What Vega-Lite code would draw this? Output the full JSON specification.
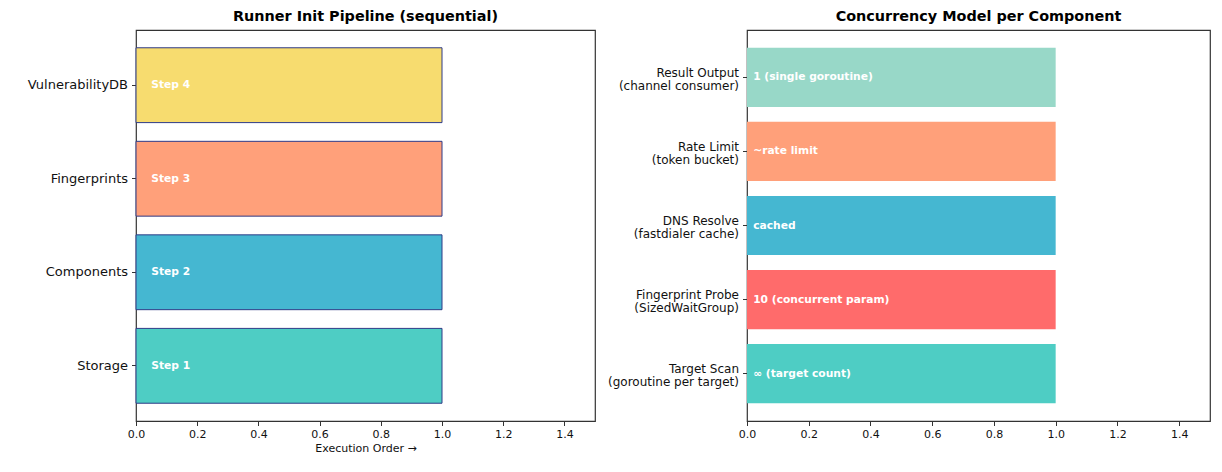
{
  "$schema": "https://vega.github.io/schema/vega-lite/v6.json",
  "background": "white",
  "padding": {"left": 26, "top": 8, "right": 5, "bottom": 5},
  "config": {
    "font": "DejaVu Sans",
    "view": {"stroke": "#333333", "strokeWidth": 1.2},
    "axis": {
      "grid": false,
      "domain": false,
      "tickColor": "#333333",
      "tickSize": 4.5,
      "labelColor": "#111111",
      "labelFont": "DejaVu Sans",
      "labelFlush": false,
      "titleFont": "DejaVu Sans",
      "titleFontWeight": "normal",
      "titleColor": "#111111"
    },
    "title": {"font": "DejaVu Sans", "fontSize": 14.4, "fontWeight": "bold", "color": "#000000", "offset": 6}
  },
  "spacing": 10,
  "hconcat": [
    {
      "title": "Runner Init Pipeline (sequential)",
      "width": 459,
      "height": 391,
      "data": {
        "values": [
          {"module": "Storage", "order": 1, "label": "Step 1", "colour": "#4ECDC4"},
          {"module": "Components", "order": 1, "label": "Step 2", "colour": "#45B7D1"},
          {"module": "Fingerprints", "order": 1, "label": "Step 3", "colour": "#FFA07A"},
          {"module": "VulnerabilityDB", "order": 1, "label": "Step 4", "colour": "#F7DC6F"}
        ]
      },
      "encoding": {
        "y": {
          "field": "module",
          "type": "nominal",
          "sort": ["VulnerabilityDB", "Fingerprints", "Components", "Storage"],
          "scale": {"paddingInner": 0.2, "paddingOuter": 0.19},
          "axis": {"title": null, "labelFontSize": 13, "labelPadding": 4}
        }
      },
      "layer": [
        {
          "mark": {"type": "bar", "stroke": "#2E3A87", "strokeWidth": 1},
          "encoding": {
            "x": {
              "field": "order",
              "type": "quantitative",
              "scale": {"domain": [0, 1.5], "nice": false},
              "axis": {"title": "Execution Order →", "values": [0, 0.2, 0.4, 0.6, 0.8, 1.0, 1.2, 1.4], "format": ".1f", "labelFontSize": 11, "titleFontSize": 11, "titlePadding": 3, "labelPadding": 3}
            },
            "color": {"field": "colour", "type": "nominal", "scale": null}
          }
        },
        {
          "mark": {"type": "text", "align": "left", "baseline": "middle", "color": "white", "fontWeight": "bold", "fontSize": 10.7},
          "encoding": {
            "x": {"datum": 0.05, "type": "quantitative"},
            "text": {"field": "label"}
          }
        }
      ]
    },
    {
      "title": "Concurrency Model per Component",
      "width": 463,
      "height": 391,
      "data": {
        "values": [
          {"component": "Target Scan\n(goroutine per target)", "level": 1, "label": "∞ (target count)", "colour": "#4ECDC4"},
          {"component": "Fingerprint Probe\n(SizedWaitGroup)", "level": 1, "label": "10 (concurrent param)", "colour": "#FF6B6B"},
          {"component": "DNS Resolve\n(fastdialer cache)", "level": 1, "label": "cached", "colour": "#45B7D1"},
          {"component": "Rate Limit\n(token bucket)", "level": 1, "label": "~rate limit", "colour": "#FFA07A"},
          {"component": "Result Output\n(channel consumer)", "level": 1, "label": "1 (single goroutine)", "colour": "#98D8C8"}
        ]
      },
      "encoding": {
        "y": {
          "field": "component",
          "type": "nominal",
          "sort": [
            "Result Output\n(channel consumer)",
            "Rate Limit\n(token bucket)",
            "DNS Resolve\n(fastdialer cache)",
            "Fingerprint Probe\n(SizedWaitGroup)",
            "Target Scan\n(goroutine per target)"
          ],
          "scale": {"paddingInner": 0.2, "paddingOuter": 0.24},
          "axis": {"title": null, "labelFontSize": 12, "labelLineHeight": 13, "labelOffset": -4.5, "labelPadding": 4, "labelExpr": "split(datum.label, '\\n')"}
        }
      },
      "layer": [
        {
          "mark": {"type": "bar"},
          "encoding": {
            "x": {
              "field": "level",
              "type": "quantitative",
              "scale": {"domain": [0, 1.5], "nice": false},
              "axis": {"title": null, "values": [0, 0.2, 0.4, 0.6, 0.8, 1.0, 1.2, 1.4], "format": ".1f", "labelFontSize": 11, "labelPadding": 3}
            },
            "color": {"field": "colour", "type": "nominal", "scale": null}
          }
        },
        {
          "mark": {"type": "text", "align": "left", "baseline": "middle", "color": "white", "fontWeight": "bold", "fontSize": 10.7},
          "encoding": {
            "x": {"datum": 0.02, "type": "quantitative"},
            "text": {"field": "label"}
          }
        }
      ]
    }
  ]
}
